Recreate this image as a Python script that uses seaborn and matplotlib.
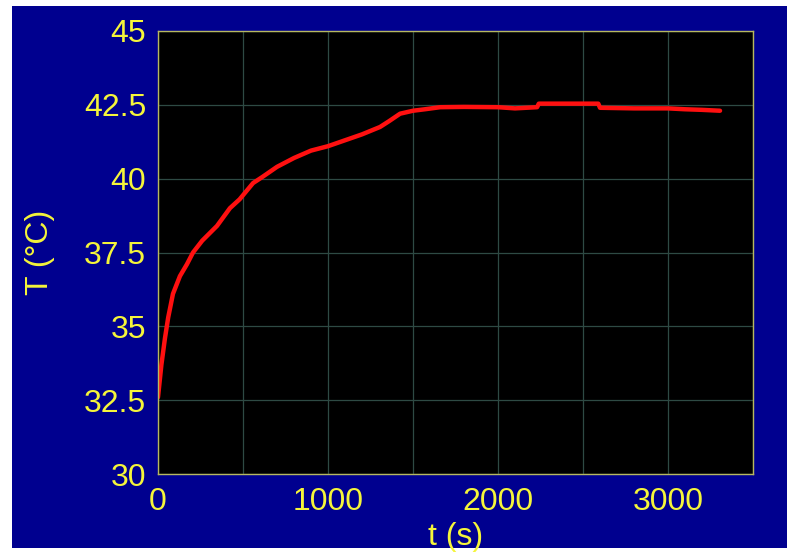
import matplotlib
matplotlib.use("Agg")
import matplotlib.pyplot as plt  # For the figure
import seaborn as sns  # For the line
import pandas as pd  # For the table
from matplotlib.patches import Rectangle

# Temperature readings
time_s = [0, 20, 41, 60, 88, 129, 170, 206, 260, 347, 423, 480, 559, 612, 700,
          800, 900, 1000, 1100, 1200, 1306, 1360, 1424, 1500, 1570, 1660, 1800,
          2000, 2100, 2230, 2240, 2590, 2600, 2800, 3000, 3100, 3200, 3306]
temp_c = [32.6, 33.7, 34.6, 35.3, 36.1, 36.7, 37.1, 37.5, 37.9, 38.4, 39.0, 39.3,
          39.85, 40.05, 40.4, 40.7, 40.95, 41.1, 41.3, 41.5, 41.75, 41.95, 42.2,
          42.3, 42.35, 42.42, 42.43, 42.42, 42.38, 42.42, 42.54, 42.54, 42.4,
          42.38, 42.38, 42.35, 42.33, 42.3]
x_ticks = [0, 500, 1000, 1500, 2000, 2500, 3000, 3500]
x_tick_labels = ["0", "", "1000", "", "2000", "", "3000", ""]
y_ticks = [30, 32.5, 35, 37.5, 40, 42.5, 45]
y_tick_labels = ["30", "32.5", "35", "37.5", "40", "42.5", "45"]

PANEL = "#00008F"
YELLOW = "#F5F53A"
GRID = "#2E4A44"

sns.set_style("dark")
plt.rcParams['font.family'] = ['Liberation Sans', 'DejaVu Sans']

df = pd.DataFrame({"t": time_s, "T": temp_c})

fig = plt.figure(figsize=(7.95, 5.52), dpi=100, facecolor="white")
# blue panel behind the plot
fig.patches.append(Rectangle((12 / 795, 4 / 552), 775 / 795, 542 / 552,
                             transform=fig.transFigure, facecolor=PANEL,
                             edgecolor="none", zorder=-5))
ax = fig.add_axes([158 / 795, 78 / 552, 595 / 795, 443 / 552])
ax.set_facecolor("black")

sns.lineplot(data=df, x="t", y="T", ax=ax, color="#FF1010", linewidth=3.2)

ax.set_xlim(0, 3500)
ax.set_ylim(30, 45)
ax.set_xticks(x_ticks)
ax.set_xticklabels(x_tick_labels)
ax.set_yticks(y_ticks)
ax.set_yticklabels(y_tick_labels)
ax.grid(True, color=GRID, linewidth=0.9)
ax.tick_params(colors="#B8B860", labelcolor=YELLOW, labelsize=23,
               length=5, width=1, direction="out")
ax.tick_params(axis="x", pad=4)
for s in ax.spines.values():
    s.set_visible(True)
    s.set_color("#B8B860")
    s.set_linewidth(1)

ax.set_xlabel("t (s)", color=YELLOW, fontsize=23, labelpad=4)
ax.set_ylabel("T (°C)", color=YELLOW, fontsize=23, labelpad=21)

fig.savefig("out.png", dpi=100, facecolor="white")
